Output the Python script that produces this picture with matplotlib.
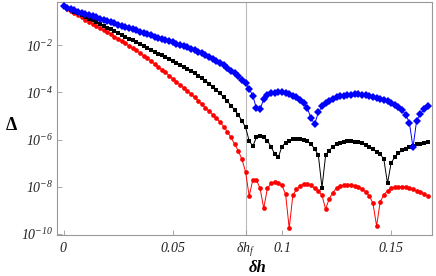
import matplotlib
matplotlib.use("Agg")
import matplotlib.pyplot as plt
import numpy as np

plt.rcParams['mathtext.fontset'] = 'custom'
plt.rcParams['mathtext.rm'] = 'Liberation Serif:italic'
plt.rcParams['mathtext.it'] = 'Liberation Serif:italic'
plt.rcParams['mathtext.bf'] = 'Liberation Serif:bold'

# sample index k, step dh = 1/600 (k = 0..100)
k_index = list(range(101))
step = 1.0 / 600.0
dh_f = 50 * step

# log10 of Delta
log_blue = [-0.34, -0.42, -0.48, -0.53, -0.58, -0.63, -0.68, -0.73, -0.78, -0.83,
            -0.88, -0.93, -0.98, -1.03, -1.08, -1.13, -1.18, -1.23, -1.28, -1.33,
            -1.38, -1.43, -1.48, -1.53, -1.59, -1.64, -1.69, -1.74, -1.79, -1.84,
            -1.89, -1.94, -1.99, -2.04, -2.10, -2.16, -2.22, -2.28, -2.35, -2.42,
            -2.50, -2.58, -2.67, -2.76, -2.86, -2.97, -3.08, -3.20, -3.33, -3.47,
            -3.62, -3.85, -4.15, -4.68, -4.72, -4.28, -4.12, -4.05, -4.01, -3.99,
            -3.99, -4.02, -4.07, -4.14, -4.22, -4.32, -4.45, -4.68, -5.10, -5.34,
            -4.85, -4.60, -4.45, -4.35, -4.27, -4.21, -4.17, -4.14, -4.12, -4.10,
            -4.09, -4.09, -4.10, -4.12, -4.15, -4.19, -4.23, -4.27, -4.32, -4.38,
            -4.45, -4.53, -4.62, -4.75, -4.95, -5.28, -6.33, -5.20, -4.92, -4.72,
            -4.60]

log_black = [-0.34, -0.42, -0.50, -0.58, -0.65, -0.73, -0.81, -0.88, -0.96, -1.04,
             -1.11, -1.19, -1.27, -1.34, -1.42, -1.50, -1.57, -1.65, -1.73, -1.80,
             -1.88, -1.96, -2.04, -2.12, -2.20, -2.28, -2.36, -2.44, -2.52, -2.60,
             -2.68, -2.76, -2.84, -2.92, -3.01, -3.10, -3.19, -3.29, -3.40, -3.51,
             -3.63, -3.76, -3.90, -4.05, -4.21, -4.38, -4.56, -4.75, -4.95, -5.20,
             -5.48, -6.05, -6.28, -5.91, -5.84, -5.91, -6.05, -6.30, -6.61, -6.75,
             -6.30, -6.13, -6.05, -5.99, -5.98, -5.98, -6.01, -6.06, -6.20, -6.40,
             -6.66, -8.04, -6.66, -6.47, -6.30, -6.19, -6.13, -6.09, -6.08, -6.08,
             -6.10, -6.12, -6.16, -6.23, -6.33, -6.42, -6.52, -6.61, -6.84, -7.86,
             -6.98, -6.75, -6.58, -6.46, -6.38, -6.31, -6.26, -6.21, -6.17, -6.14,
             -6.12]

log_red = [-0.36, -0.46, -0.56, -0.65, -0.74, -0.83, -0.92, -1.01, -1.10, -1.19,
           -1.28, -1.37, -1.46, -1.55, -1.64, -1.73, -1.83, -1.93, -2.03, -2.13,
           -2.23, -2.34, -2.45, -2.56, -2.68, -2.80, -2.92, -3.04, -3.16, -3.29,
           -3.42, -3.55, -3.68, -3.81, -3.94, -4.08, -4.22, -4.36, -4.51, -4.65,
           -4.80, -4.95, -5.10, -5.26, -5.45, -5.67, -5.91, -6.19, -6.48, -6.83,
           -7.36, -8.39, -7.71, -7.71, -8.07, -8.91, -8.07, -7.86, -7.81, -7.86,
           -7.94, -8.31, -9.76, -8.35, -8.11, -7.96, -7.88, -7.88, -7.94, -8.07,
           -8.17, -8.36, -8.95, -8.50, -8.25, -8.05, -7.98, -7.94, -7.91, -7.92,
           -7.96, -8.01, -8.10, -8.22, -8.38, -8.70, -9.66, -8.63, -8.35, -8.17,
           -8.06, -8.01, -7.99, -7.99, -8.02, -8.06, -8.11, -8.17, -8.22, -8.29,
           -8.38]

x_ticks = [0, 0.05, dh_f, 0.1, 0.15]
x_tick_labels = ['$0$', '$0.05$', r'$\delta h_f$', '$0.1$', '$0.15$']
y_ticks_exp = [-10, -8, -6, -4, -2]

x = np.array(k_index) * step

fig = plt.figure(figsize=(4.36, 2.76), dpi=100)
ax = fig.add_axes([57.3/436, 1 - 235.3/276, (432 - 57.3)/436, (235.3 - 2.3)/276])

ax.axvline(dh_f, color='#bbbbbb', lw=0.8, zorder=1)

ax.plot(x, 10.0**np.array(log_red), color=(1, 0, 0), lw=0.7, marker='o', ms=3.4,
        mec=(1, 0, 0), mfc=(1, 0, 0), mew=0, zorder=3)
ax.plot(x, 10.0**np.array(log_black), color='black', lw=0.7, marker='s', ms=3.2,
        mec='black', mfc='black', mew=0, zorder=4)
ax.plot(x, 10.0**np.array(log_blue), color=(0, 0, 1), lw=0.7, marker='D', ms=3.8,
        mec=(0, 0, 1), mfc=(0, 0, 1), mew=0, zorder=5)

ax.set_yscale('log')
ax.set_xlim(-0.00284, 0.1687)
ax.set_ylim(10**-10.055, 10**-0.19)

ax.set_yticks([10.0**e for e in y_ticks_exp])
ax.set_yticklabels(['$10^{%d}$' % e for e in y_ticks_exp])
ax.yaxis.set_minor_locator(matplotlib.ticker.NullLocator())
ax.set_xticks(x_ticks)
ax.set_xticklabels(x_tick_labels)

for s in ax.spines.values():
    s.set_color('#999999')
    s.set_linewidth(0.8)
ax.tick_params(direction='in', length=3.5, width=0.6, color='#999999',
               labelsize=10, labelcolor='#222222')
ax.tick_params(axis='x', pad=4)
ax.tick_params(axis='y', pad=3)

fig.text(11/436, 1 - 126/276, 'Δ', family='Liberation Serif', weight='bold',
         fontsize=13, ha='center', va='center')
fig.text(258/436, 1 - 268/276, 'δh', family='Liberation Serif', weight='bold',
         style='italic', fontsize=12, ha='center', va='center')

fig.savefig('out.png', dpi=100)
